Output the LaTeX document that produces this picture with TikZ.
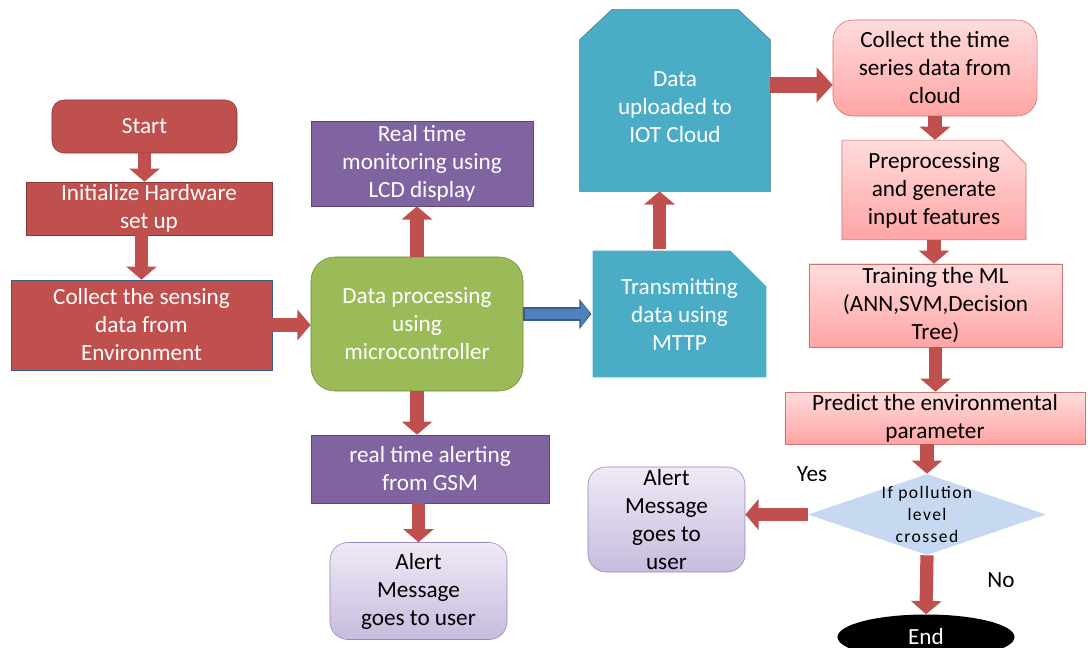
\documentclass[tikz,border=0pt]{standalone}
\usepackage{fontspec}
\setmainfont{Carlito}
\newfontfamily\spacedfont[LetterSpace=8]{Carlito}
\usepackage{xcolor}
\usetikzlibrary{positioning,shapes.geometric,shapes.misc,arrows.meta,backgrounds}

\definecolor{redfill}{HTML}{C0504D}
\definecolor{redline}{HTML}{8C3836}
\definecolor{greenfill}{HTML}{9BBB59}
\definecolor{greenline}{HTML}{71893F}
\definecolor{purplefill}{HTML}{8064A2}
\definecolor{purpleline}{HTML}{5C4776}
\definecolor{tealfill}{HTML}{4BACC6}
\definecolor{tealline}{HTML}{357D91}
\definecolor{bluefill}{HTML}{4F81BD}
\definecolor{blueline}{HTML}{385D8A}
\definecolor{pinktop}{HTML}{FFDCDC}
\definecolor{pinkbot}{HTML}{FFA4A4}
\definecolor{lavtop}{HTML}{EFEAF6}
\definecolor{lavbot}{HTML}{C8BBDE}
\definecolor{lavline}{HTML}{9A85BA}
\definecolor{decfill}{HTML}{C6D9F1}

\begin{document}
\begin{tikzpicture}[
    x=0.025cm,
    y=-0.025cm,
    font=\fontsize{16.5}{19.9}\selectfont,
    base/.style={
        align=center,
        inner sep=0pt
    },
    redbox/.style={
        base,
        draw=redline,
        fill=redfill,
        text=white,
        thin
    },
    purplebox/.style={
        base,
        draw=purpleline,
        fill=purplefill,
        text=white,
        thin
    },
    pinkbox/.style={
        base,
        draw=redfill!80,
        top color=pinktop,
        bottom color=pinkbot,
        thin
    },
    alertbox/.style={
        base,
        draw=lavline,
        top color=lavtop,
        bottom color=lavbot,
        rounded corners=0.45cm,
        thin
    },
    tealbox/.style={
        base,
        chamfered rectangle,
        fill=tealfill,
        text=white
    },
    decision/.style={
        diamond,
        fill=decfill,
        inner sep=0pt
    },
    flow/.style={
        -{Triangle[width=0.75cm,length=0.33cm]},
        line width=0.33cm,
        draw=redfill
    },
    bigflow/.style={
        -{Triangle[width=0.85cm,length=0.4cm]},
        line width=0.4cm,
        draw=redfill
    },
    blueedge/.style={
        -{Triangle[width=0.74cm,length=0.3cm]},
        line width=0.34cm,
        draw=blueline
    },
    blueflow/.style={
        -{Triangle[width=0.6cm,length=0.22cm]},
        line width=0.24cm,
        draw=bluefill,
        shorten >=0.04cm
    }
]
\path[use as bounding box, clip] (0,0) rectangle (1088,647);
\begin{scope}[on background layer]
\fill[white] (0,0) rectangle (1088,647);
\end{scope}

% sensing side
\node[redbox, rounded corners=0.3cm, minimum width=4.625cm, minimum height=1.325cm]
    (start) at (144.5,126.5) {Start};
\node[redbox, minimum width=6.15cm, minimum height=1.325cm]
    (init) at (149,208.5) {Initialize Hardware\\set up};
\node[redbox, draw=blueline, minimum width=6.525cm, minimum height=2.25cm]
    (sense) at (141.5,325) {Collect the sensing\\data from\\Environment};

% controller
\node[base, draw=greenline, fill=greenfill, text=white, rounded corners=0.6cm,
    minimum width=5.3cm, minimum height=3.35cm]
    (proc) at (417,324) {Data processing\\using\\microcontroller};
\node[purplebox, minimum width=5.55cm, minimum height=2.125cm]
    (lcd) at (422,163.5) {Real time\\monitoring using\\LCD display};
\node[purplebox, minimum width=5.95cm, minimum height=1.7cm]
    (gsm) at (430,469) {real time alerting\\from GSM};
\node[alertbox, minimum width=4.425cm, minimum height=2.425cm]
    (alertA) at (418.5,591) {Alert\\Message\\goes to user};

% cloud side
\node[tealbox, draw=white, thick, chamfered rectangle corners=north east,
    chamfered rectangle sep=0.45cm, minimum width=4.375cm, minimum height=3.2cm]
    (trans) at (679.5,314) {Transmitting\\data using\\MTTP};
\node[base, minimum width=4.75cm, minimum height=4.525cm]
    (cloud) at (675,100.5) {};
\node[base, text=white] (cloudtxt) at (675,107) {Data\\uploaded to\\IOT Cloud};
\begin{scope}[on background layer]
\draw[draw=tealline, fill=tealfill] (cloud.south west)
    -- ([yshift=-0.75cm]cloud.north west) -- ([xshift=0.8cm]cloud.north west)
    -- ([xshift=-0.8cm]cloud.north east) -- ([yshift=-0.75cm]cloud.north east)
    -- (cloud.south east) -- cycle;
\end{scope}

% learning column
\node[pinkbox, rounded corners=0.5cm, minimum width=5.1cm, minimum height=2.4cm]
    (series) at (935,68) {Collect the time\\series data from\\cloud};
\node[pinkbox, chamfered rectangle, chamfered rectangle corners=north east,
    chamfered rectangle sep=0.3cm, minimum width=4.6cm, minimum height=2.25cm]
    (prep) at (934,190) {Preprocessing\\and generate\\input features};
\node[pinkbox, minimum width=6.325cm, minimum height=2.075cm]
    (train) at (935.5,305.5) {Training the ML\\(ANN,SVM,Decision\\Tree)};
\node[pinkbox, minimum width=7.5cm, minimum height=1.3cm]
    (predict) at (935,418) {Predict the environmental\\parameter};
\node[decision, minimum width=5.95cm, minimum height=2.025cm]
    (decide) at (927,514.5) {};
\node[base, font=\spacedfont\fontsize{12.5}{15.6}\selectfont]
    (decidetxt) at (decide) {If pollution\\level\\crossed};
\node[alertbox, minimum width=3.925cm, minimum height=2.625cm]
    (alertB) at (666.5,519.5) {Alert\\Message\\goes to\\user};
\node[ellipse, fill=black, text=white, inner sep=0pt, minimum width=4.425cm,
    minimum height=1.125cm]
    (end) at (926,637) {End};

\node[base] (yes) at (812,474) {Yes};
\node[base] (no) at (1001,580) {No};

% connectors
\draw[flow] (start.south) -- (start.south |- init.north);
\draw[flow] (init.south -| sense.north) -- (sense.north);
\draw[flow] (sense.east) -- (sense.east -| proc.west);
\draw[flow] (proc.north) -- (proc.north |- lcd.south);
\draw[flow] (proc.south) -- (proc.south |- gsm.north);
\draw[flow] (alertA.north |- gsm.south) -- (alertA.north);
\draw[blueedge] (proc.east |- trans.west) -- (trans.west);
\draw[blueflow] ([xshift=0.04cm]proc.east |- trans.west) -- (trans.west);
\draw[flow] ([xshift=-0.5cm]trans.north) -- ([xshift=-0.5cm]trans.north |- cloud.south);
\draw[bigflow] ([yshift=0.39cm]cloud.east) -- ([yshift=0.39cm]cloud.east -| series.west);
\draw[flow] (series.south) -- (series.south |- prep.north);
\draw[flow] (prep.south) -- (prep.south |- train.north);
\draw[flow] (train.south) -- (train.south |- predict.north);
\draw[flow] (predict.south -| decide.north) -- (decide.north);
\draw[flow] (decide.west) -- (decide.west -| alertB.east);
\draw[flow] (decide.south) -- (end.north);

\end{tikzpicture}
\end{document}
